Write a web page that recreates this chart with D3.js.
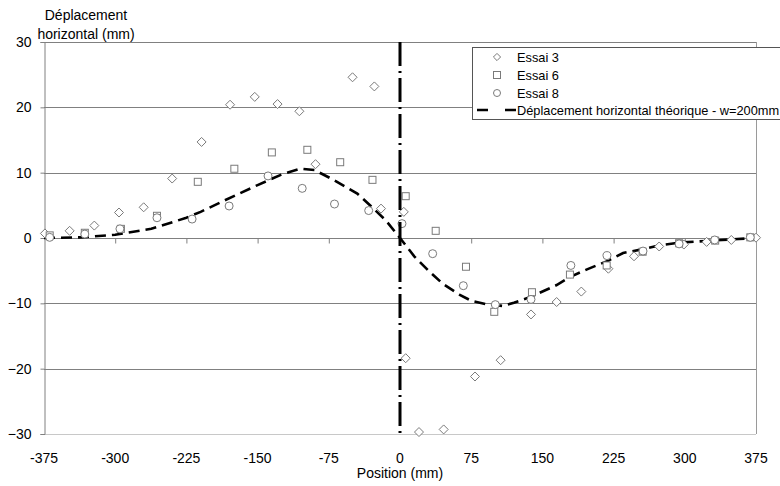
<!DOCTYPE html>
<html>
<head>
<meta charset="utf-8">
<script src="https://cdn.jsdelivr.net/npm/d3@7"></script>
<style>
  html, body { margin: 0; padding: 0; background: #fff; }
  svg text { font-family: "Liberation Sans", Arial, sans-serif; fill: #000; }
</style>
</head>
<body>
<svg id="chart" width="780" height="486"></svg>
<script>
// ---- data ----
const xTicks = [-375, -300, -225, -150, -75, 0, 75, 150, 225, 300, 375];
const yTicks = [-30, -20, -10, 0, 10, 20, 30];

const essai3X = [-374,-348,-322,-296,-270,-240,-209,-179,-153,-129,-106,-89,-50,-27,-20,4,6,20,46,79,106,138,165,191,219.5,246.5,273,299,323,349,375];
const essai3Y = [0.7,1.1,1.9,3.9,4.7,9.1,14.7,20.4,21.6,20.5,19.4,11.3,24.6,23.2,4.5,4.0,-18.4,-29.7,-29.3,-21.2,-18.7,-11.7,-9.8,-8.2,-4.7,-2.8,-1.3,-1.0,-0.6,-0.3,0.05];

const essai6X = [-369,-332,-294,-256,-213,-174.5,-135,-97.6,-63,-29,6,37.6,69.5,99.3,139,179,217.7,255.6,294,332,369];
const essai6Y = [0.4,0.8,1.4,3.4,8.6,10.6,13.1,13.5,11.6,8.9,6.4,1.1,-4.4,-11.3,-8.3,-5.6,-4.2,-2.1,-0.8,-0.4,0.1];

const essai8X = [-369,-332,-295,-256,-219,-180,-139,-103,-69,-33,2.1,34.4,66.7,100.4,138,180,218,256,294,331.5,369];
const essai8Y = [0.1,0.6,1.4,3.1,2.9,4.9,9.5,7.6,5.2,4.2,2.2,-2.4,-7.3,-10.2,-9.4,-4.2,-2.7,-2.0,-0.9,-0.3,0.1];

const theoX = [-375,-337,-300,-262,-225,-210,-187,-150,-125,-105,-90,-70,-45,-30,-15,0,15,30,45,63,75,90,108,120,138,165,180,197,219,235,256,274,295,323,350,375];
const theoY = [0,0.1,0.5,1.4,3.1,4.0,5.6,8.1,9.7,10.6,10.4,8.9,6.8,4.8,2.7,0,-2.8,-5.0,-7.0,-8.7,-9.6,-10.1,-10.4,-9.9,-9.0,-7.2,-5.9,-4.8,-3.5,-2.3,-1.7,-1.1,-0.7,-0.45,-0.2,0];

const legendLabels = ["Essai 3", "Essai 6", "Essai 8", "Déplacement horizontal théorique - w=200mm"];

// ---- layout ----
const svg = d3.select("#chart");
const L = 44, R = 756, T = 42, B = 434;
const x = d3.scaleLinear().domain([-375, 375]).range([L, R]);
const y = d3.scaleLinear().domain([-30, 30]).range([B, T]);
const FONT = 14;
const LFONT = 12.8;
const markerStroke = "#7a7a7a";

// plot frame
svg.append("line").attr("x1", L).attr("x2", R).attr("y1", B + 0.5).attr("y2", B + 0.5)
  .attr("stroke", "#c8c8c8").attr("stroke-width", 1);
svg.append("line").attr("x1", R + 0.5).attr("x2", R + 0.5).attr("y1", T).attr("y2", B)
  .attr("stroke", "#9a9a9a").attr("stroke-width", 1);

// gridlines
svg.append("g").selectAll("line").data(yTicks.filter(d => d !== 0 && d !== -30)).join("line")
  .attr("x1", L).attr("x2", R)
  .attr("y1", d => Math.round(y(d)) + 0.5).attr("y2", d => Math.round(y(d)) + 0.5)
  .attr("stroke", "#808080").attr("stroke-width", 1);

// y axis
const yAxis = d3.axisLeft(y).tickValues(yTicks).tickSize(4).tickPadding(9).tickFormat(d3.format("d"));
const gy = svg.append("g").attr("transform", `translate(${L + 0.5},0)`).call(yAxis);
gy.select(".domain").attr("stroke", "#808080");
gy.selectAll(".tick line").attr("stroke", "#808080");
gy.selectAll(".tick text").attr("font-size", FONT).attr("font-family", "Liberation Sans, Arial, sans-serif").attr("fill", "#000");

// x axis at y=0 with ticks; labels at bottom
const xAxis = d3.axisBottom(x).tickValues(xTicks).tickSize(5).tickFormat("");
const gx = svg.append("g").attr("transform", `translate(0,${Math.round(y(0)) + 0.5})`).call(xAxis);
gx.select(".domain").attr("stroke", "#808080").attr("d", `M${L},0H${R}`);
gx.selectAll(".tick line").attr("stroke", "#808080");
gx.selectAll(".tick").filter(d => d === -375 || d === 375).remove();

svg.append("g").selectAll("text").data(xTicks).join("text")
  .attr("x", d => x(d)).attr("y", B + 29)
  .attr("text-anchor", "middle").attr("font-size", FONT).text(d => d);

// axis titles
svg.append("text").attr("x", 86).attr("y", 20).attr("text-anchor", "middle").attr("font-size", FONT).text("Déplacement");
svg.append("text").attr("x", 86).attr("y", 39).attr("text-anchor", "middle").attr("font-size", FONT).text("horizontal (mm)");
svg.append("text").attr("x", 400).attr("y", 478).attr("text-anchor", "middle").attr("font-size", FONT).text("Position (mm)");

// theoretical curve
const theo = theoX.map((v, i) => [v, theoY[i]]);
svg.append("path").datum(theo)
  .attr("d", d3.line().x(d => x(d[0])).y(d => y(d[1])))
  .attr("fill", "none").attr("stroke", "#000").attr("stroke-width", 2.6)
  .attr("stroke-dasharray", "11,6");

// markers
const diamond = (s) => `M0,${-s}L${s},0L0,${s}L${-s},0Z`;
function drawSeries(xs, ys, type) {
  const g = svg.append("g");
  const data = xs.map((v, i) => [v, ys[i]]);
  if (type === "diamond") {
    g.selectAll("path").data(data).join("path")
      .attr("transform", d => `translate(${x(d[0])},${y(d[1])})`)
      .attr("d", diamond(4.5)).attr("fill", "#fff").attr("stroke", markerStroke).attr("stroke-width", 1);
  } else if (type === "square") {
    g.selectAll("rect").data(data).join("rect")
      .attr("x", d => x(d[0]) - 3.5).attr("y", d => y(d[1]) - 3.5)
      .attr("width", 7).attr("height", 7)
      .attr("fill", "#fff").attr("stroke", markerStroke).attr("stroke-width", 1);
  } else {
    g.selectAll("circle").data(data).join("circle")
      .attr("cx", d => x(d[0])).attr("cy", d => y(d[1])).attr("r", 4)
      .attr("fill", "#fff").attr("stroke", markerStroke).attr("stroke-width", 1);
  }
}
drawSeries(essai3X, essai3Y, "diamond");
drawSeries(essai6X, essai6Y, "square");
drawSeries(essai8X, essai8Y, "circle");

// vertical dash-dot line at 0
svg.append("line").attr("x1", x(0)).attr("x2", x(0)).attr("y1", T).attr("y2", B + 3)
  .attr("stroke", "#000").attr("stroke-width", 3)
  .attr("stroke-dasharray", "24,5,2,5");

// legend
const lg = svg.append("g");
lg.append("rect").attr("x", 472.5).attr("y", 47.5).attr("width", 320).attr("height", 72)
  .attr("fill", "#fff").attr("stroke", "#555").attr("stroke-width", 1);
const rowsY = [57, 75, 93, 110];
lg.selectAll("text").data(legendLabels).join("text")
  .attr("x", 517).attr("y", (d, i) => rowsY[i] + 5).attr("font-size", LFONT).text(d => d);
lg.append("path").attr("transform", `translate(497,${rowsY[0]})`).attr("d", diamond(3.6))
  .attr("fill", "#fff").attr("stroke", markerStroke);
lg.append("rect").attr("x", 493.5).attr("y", rowsY[1] - 3.5).attr("width", 7).attr("height", 7)
  .attr("fill", "#fff").attr("stroke", markerStroke);
lg.append("circle").attr("cx", 497).attr("cy", rowsY[2]).attr("r", 3.5)
  .attr("fill", "#fff").attr("stroke", markerStroke);
lg.append("line").attr("x1", 477).attr("x2", 516).attr("y1", rowsY[3]).attr("y2", rowsY[3])
  .attr("stroke", "#000").attr("stroke-width", 2.6).attr("stroke-dasharray", "11,17");
</script>
</body>
</html>
